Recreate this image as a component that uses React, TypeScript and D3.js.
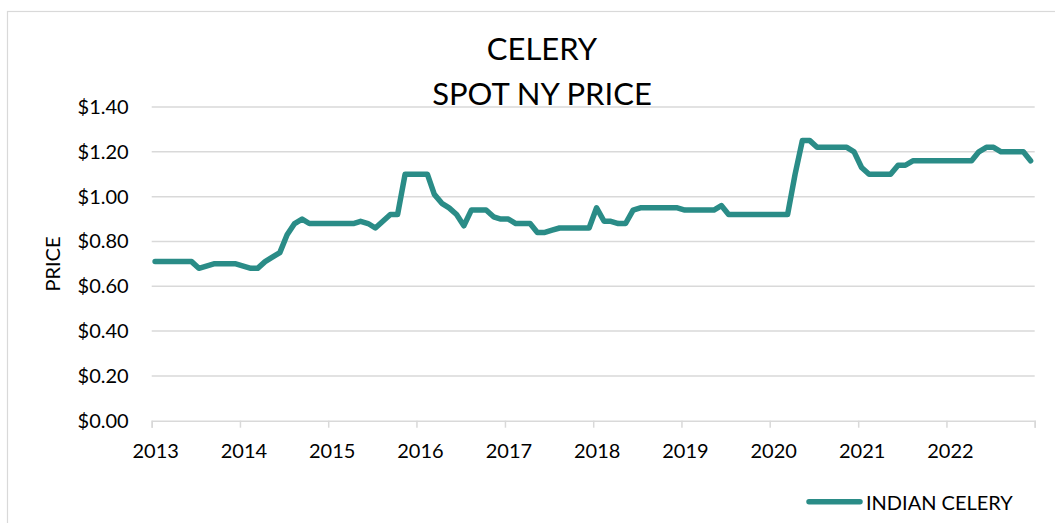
import { useEffect, useRef } from 'react';
import * as d3 from 'd3';

// monthly spot price, Jan..Dec for each year
const years = [2013, 2014, 2015, 2016, 2017, 2018, 2019, 2020, 2021, 2022];
const price2013 = [0.71, 0.71, 0.71, 0.71, 0.71, 0.71, 0.68, 0.69, 0.7, 0.7, 0.7, 0.7];
const price2014 = [0.69, 0.68, 0.68, 0.71, 0.73, 0.75, 0.83, 0.88, 0.9, 0.88, 0.88, 0.88];
const price2015 = [0.88, 0.88, 0.88, 0.88, 0.89, 0.88, 0.86, 0.89, 0.92, 0.92, 1.1, 1.1];
const price2016 = [1.1, 1.1, 1.01, 0.97, 0.95, 0.92, 0.87, 0.94, 0.94, 0.94, 0.91, 0.9];
const price2017 = [0.9, 0.88, 0.88, 0.88, 0.84, 0.84, 0.85, 0.86, 0.86, 0.86, 0.86, 0.86];
const price2018 = [0.95, 0.89, 0.89, 0.88, 0.88, 0.94, 0.95, 0.95, 0.95, 0.95, 0.95, 0.95];
const price2019 = [0.94, 0.94, 0.94, 0.94, 0.94, 0.96, 0.92, 0.92, 0.92, 0.92, 0.92, 0.92];
const price2020 = [0.92, 0.92, 0.92, 1.1, 1.25, 1.25, 1.22, 1.22, 1.22, 1.22, 1.22, 1.2];
const price2021 = [1.13, 1.1, 1.1, 1.1, 1.1, 1.14, 1.14, 1.16, 1.16, 1.16, 1.16, 1.16];
const price2022 = [1.16, 1.16, 1.16, 1.16, 1.2, 1.22, 1.22, 1.2, 1.2, 1.2, 1.2, 1.16];
const yTicks = [0, 0.2, 0.4, 0.6, 0.8, 1.0, 1.2, 1.4];
const titleLines = ['CELERY', 'SPOT NY PRICE'];
const seriesName = 'INDIAN CELERY';

const FONT = 'Lato, "Noto Sans", sans-serif';
const TEAL = '#2a8c87';
const GRID = '#d9d9d9';

const App = () => {
  const svgRef = useRef<SVGSVGElement>(null);

  useEffect(() => {
    if (!svgRef.current) return;
    const width = 1055;
    const height = 523;

    const svg = d3.select(svgRef.current).attr('width', width).attr('height', height);
    svg.selectAll('*').remove();

    const yearly = [price2013, price2014, price2015, price2016, price2017, price2018, price2019, price2020, price2021, price2022];
    const data = yearly.flatMap((vals, yi) =>
      vals.map((v, m) => ({ date: new Date(years[yi], m, 15), value: v }))
    );

    const x = d3
      .scaleTime()
      .domain([new Date(2013, 0, 1), new Date(2023, 0, 1)])
      .range([151.7, 1034.7]);
    const y = d3.scaleLinear().domain([0, 1.4]).range([420.7, 107]);

    // outer chart border (runs off the right and bottom)
    svg
      .append('rect')
      .attr('x', 7.5)
      .attr('y', 11.5)
      .attr('width', 1070)
      .attr('height', 540)
      .attr('fill', '#fff')
      .attr('stroke', GRID)
      .attr('stroke-width', 1.2);

    // gridlines
    svg
      .append('g')
      .selectAll('line')
      .data(yTicks.slice(1))
      .join('line')
      .attr('x1', x.range()[0])
      .attr('x2', x.range()[1])
      .attr('y1', (d) => y(d))
      .attr('y2', (d) => y(d))
      .attr('stroke', GRID)
      .attr('stroke-width', 1.5);

    // x axis
    const tickDates = d3.range(2013, 2024).map((yr) => new Date(yr, 0, 1));
    const xAxis = svg
      .append('g')
      .attr('transform', `translate(0,${y(0)})`)
      .call(
        d3
          .axisBottom(x)
          .tickValues(tickDates)
          .tickSize(7)
          .tickFormat((d) => {
            const yr = (d as Date).getFullYear();
            return yr < 2023 ? String(yr) : '';
          })
      );
    xAxis.select('.domain').attr('stroke', GRID).attr('stroke-width', 1.5);
    xAxis.selectAll('.tick line').attr('stroke', GRID).attr('stroke-width', 1.5);
    xAxis
      .selectAll('.tick text')
      .attr('font-family', FONT)
      .attr('font-size', 20)
      .attr('fill', '#000')
      .attr('dx', 3.5)
      .attr('y', 23);

    // y axis labels
    const yAxis = svg
      .append('g')
      .attr('transform', `translate(${x.range()[0]},0)`)
      .call(
        d3
          .axisLeft(y)
          .tickValues(yTicks)
          .tickSize(0)
          .tickPadding(23)
          .tickFormat((d) => '$' + d3.format('.2f')(d as number))
      );
    yAxis.select('.domain').remove();
    yAxis
      .selectAll('.tick text')
      .attr('font-family', FONT)
      .attr('font-size', 20)
      .attr('fill', '#000');

    // line
    const line = d3
      .line<{ date: Date; value: number }>()
      .x((d) => x(d.date))
      .y((d) => y(d.value));
    svg
      .append('path')
      .datum(data)
      .attr('d', line)
      .attr('fill', 'none')
      .attr('stroke', TEAL)
      .attr('stroke-width', 5.5)
      .attr('stroke-linejoin', 'round')
      .attr('stroke-linecap', 'round');

    // title
    svg
      .append('g')
      .selectAll('text')
      .data(titleLines)
      .join('text')
      .attr('x', 542)
      .attr('y', (_, i) => 60 + i * 45)
      .attr('text-anchor', 'middle')
      .attr('font-family', FONT)
      .attr('font-size', 31)
      .attr('fill', '#000')
      .text((d) => d);

    // y axis title
    svg
      .append('text')
      .attr('transform', 'translate(60,264) rotate(-90)')
      .attr('text-anchor', 'middle')
      .attr('font-family', FONT)
      .attr('font-size', 20)
      .attr('fill', '#000')
      .text('PRICE');

    // legend
    svg
      .append('line')
      .attr('x1', 809)
      .attr('x2', 860)
      .attr('y1', 501.7)
      .attr('y2', 501.7)
      .attr('stroke', TEAL)
      .attr('stroke-width', 5.5)
      .attr('stroke-linecap', 'round');
    svg
      .append('text')
      .attr('x', 866)
      .attr('y', 510)
      .attr('font-family', FONT)
      .attr('font-size', 20)
      .attr('fill', '#000')
      .text(seriesName);
  }, []);

  return (
    <svg ref={svgRef} style={{ position: 'absolute', left: 0, top: 0, display: 'block' }}></svg>
  );
};

export default App;
